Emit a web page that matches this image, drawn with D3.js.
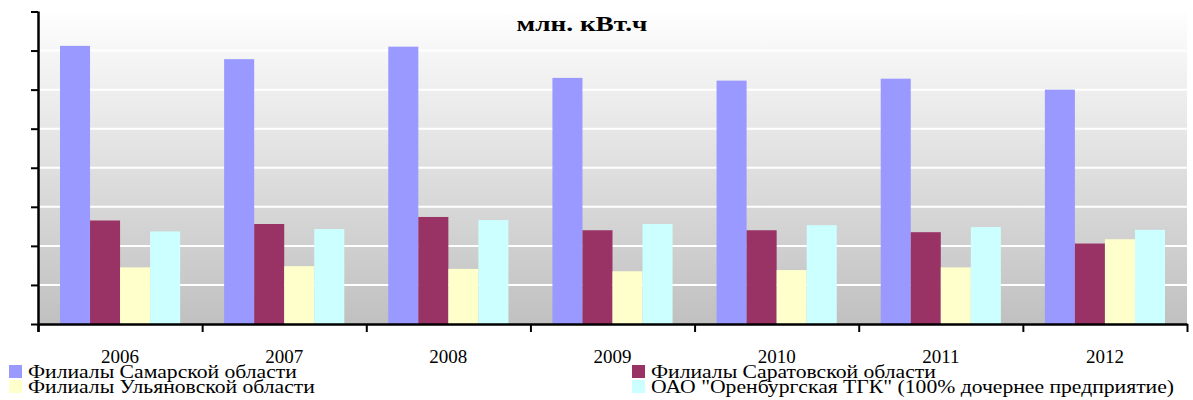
<!DOCTYPE html>
<html>
<head>
<meta charset="utf-8">
<script src="https://cdn.jsdelivr.net/npm/d3@7"></script>
<style>
  body { margin: 0; background: #fff; }
  text { font-family: "Liberation Serif", "Times New Roman", serif; }
</style>
</head>
<body>
<script>
// data (млн. кВт.ч)
var years = ["2006", "2007", "2008", "2009", "2010", "2011", "2012"];
var seriesNames = ["Филиалы Самарской области", "Филиалы Саратовской области",
                   "Филиалы Ульяновской области", "ОАО \"Оренбургская ТГК\" (100% дочернее предприятие)"];
var samara    = [7120, 6780, 7100, 6300, 6230, 6280, 6000];
var saratov   = [2650, 2560, 2740, 2400, 2400, 2350, 2060];
var ulyanovsk = [1450, 1480, 1410, 1350, 1380, 1450, 2170];
var orenburg  = [2370, 2430, 2660, 2560, 2530, 2480, 2410];
var yTicks = [0, 1000, 2000, 3000, 4000, 5000, 6000, 7000, 8000];
var colors = ["#9999ff", "#993366", "#ffffcc", "#ccffff"];

var allSeries = [samara, saratov, ulyanovsk, orenburg];

// set the dimensions and margins of the graph
var margin = {top: 11.5, right: 6, bottom: 76, left: 38},
    width = 1193 - margin.left - margin.right,
    height = 400 - margin.top - margin.bottom;

var root = d3.select("body").append("svg")
    .attr("width", 1193)
    .attr("height", 400);

// gradient for the plot background
var grad = root.append("defs").append("linearGradient")
    .attr("id", "bg")
    .attr("x1", 0).attr("y1", 0).attr("x2", 0).attr("y2", 1);
grad.append("stop").attr("offset", "0%").attr("stop-color", "#fefefe");
grad.append("stop").attr("offset", "100%").attr("stop-color", "#c0c0c0");

var svg = root.append("g")
    .attr("transform", "translate(" + margin.left + "," + margin.top + ")");

// title (second line of it, the first one is outside the picture)
// the original picture is stretched sideways, hence the scale
root.append("text")
    .attr("transform", "translate(582,31) scale(1.3,1)")
    .attr("text-anchor", "middle")
    .style("font-size", "21px")
    .style("font-weight", "bold")
    .text("млн. кВт.ч");

// scales
var x0 = d3.scaleBand().domain(years).range([0, width]);
var x1 = d3.scaleBand().domain(d3.range(allSeries.length))
    .range([22, x0.bandwidth() - 22]);
var xEdges = d3.scaleLinear().domain([0, years.length]).range([0, width]);
var y = d3.scaleLinear().domain([0, 8000]).range([height, 0]);

// background + gridlines
svg.append("rect")
    .attr("width", width)
    .attr("height", height)
    .attr("fill", "url(#bg)");

svg.append("g")
    .selectAll("line")
    .data(yTicks.slice(1))
    .enter().append("line")
    .attr("x1", 0).attr("x2", width)
    .attr("y1", function(d) { return y(d); })
    .attr("y2", function(d) { return y(d); })
    .attr("stroke", "#ffffff")
    .attr("stroke-width", 2);

// bars
var groups = svg.selectAll(".year")
    .data(years)
    .enter().append("g")
    .attr("class", "year")
    .attr("transform", function(d) { return "translate(" + x0(d) + ",0)"; });

groups.selectAll("rect")
    .data(function(d, i) { return allSeries.map(function(s, k) { return {k: k, v: s[i]}; }); })
    .enter().append("rect")
    .attr("x", function(d) { return x1(d.k); })
    .attr("width", x1.bandwidth())
    .attr("y", function(d) { return y(d.v); })
    .attr("height", function(d) { return height - y(d.v); })
    .attr("fill", function(d) { return colors[d.k]; });

// Y axis, ticks only
svg.append("g")
    .call(d3.axisLeft(y).tickValues(yTicks).tickSize(7).tickSizeOuter(0).tickFormat(""))
    .call(function(g) {
      g.selectAll("line").attr("stroke", "#000").attr("stroke-width", 2);
      g.select(".domain").attr("stroke", "#000").attr("stroke-width", 2.5)
        .attr("d", "M0.5,0V" + (height + 8));
    });

// X axis: tick marks on category edges
svg.append("g")
    .attr("transform", "translate(0," + height + ")")
    .call(d3.axisBottom(xEdges).ticks(years.length).tickSize(8).tickSizeOuter(0).tickFormat(""))
    .call(function(g) {
      g.selectAll("line").attr("stroke", "#000").attr("stroke-width", 2);
      g.select(".domain").attr("stroke", "#000").attr("stroke-width", 2.5);
    });

// X axis labels
svg.append("g")
    .attr("transform", "translate(0," + height + ")")
    .call(d3.axisBottom(x0).tickSize(0).tickPadding(26))
    .call(function(g) {
      g.select(".domain").remove();
      g.selectAll("text")
        .style("font-family", "'Liberation Serif', 'Times New Roman', serif")
        .style("font-size", "19px")
        .attr("fill", "#000");
    });

// legend
var legendPos = [[9, 365], [632, 365], [9, 380], [632, 380]];
var legend = root.selectAll(".legend")
    .data(seriesNames)
    .enter().append("g")
    .attr("class", "legend")
    .attr("transform", function(d, i) { return "translate(" + legendPos[i][0] + "," + legendPos[i][1] + ")"; });

legend.append("rect")
    .attr("width", 13)
    .attr("height", 13)
    .attr("fill", function(d, i) { return colors[i]; });

legend.append("text")
    .attr("transform", "translate(19,13) scale(1.14,1)")
    .style("font-size", "19px")
    .text(function(d) { return d; });
</script>
</body>
</html>
